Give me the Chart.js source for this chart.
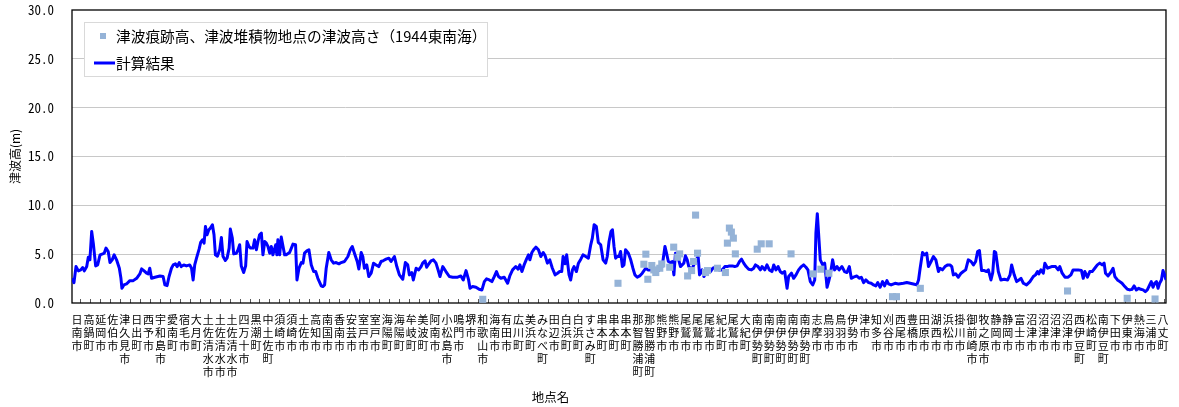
<!DOCTYPE html>
<html lang="ja">
<head>
<meta charset="utf-8">
<title>津波高 計算結果</title>
<script src="https://cdn.jsdelivr.net/npm/chart.js@4.4.1/dist/chart.umd.min.js"></script>
<style>
  html, body { margin: 0; padding: 0; background: #ffffff; }
  #wrap { width: 1179px; height: 407px; }
</style>
</head>
<body>
<div id="wrap"><canvas id="chart" width="1179" height="407"></canvas></div>
<script>
// Place names shown along the coast (one every LABEL_STEP points)
const placeNames = ['日南市','高鍋町','延岡市','佐伯市','津久見市','日出町','西予市','宇和島市','愛南町','宿毛市','大月町','土佐清水市','土佐清水市','土佐清水市','四万十市','黒潮町','中土佐町','須崎市','須崎市','土佐市','高知市','南国市','香南市','安芸市','室戸市','室戸市','海陽町','海陽町','牟岐町','美波町','阿南市','小松島市','鳴門市','堺市','和歌山市','海南市','有田市','広川町','美浜町','みなべ町','田辺市','白浜町','白浜町','すさみ町','串本町','串本町','串本町','那智勝浦町','那智勝浦町','熊野市','熊野市','尾鷲市','尾鷲市','尾鷲市','紀北町','尾鷲市','大紀町','南伊勢町','南伊勢町','南伊勢町','南伊勢町','南伊勢町','志摩市','鳥羽市','鳥羽市','伊勢市','津市','知多市','刈谷市','西尾市','豊橋市','田原市','湖西市','浜松市','掛川市','御前崎市','牧之原市','静岡市','静岡市','富士市','沼津市','沼津市','沼津市','沼津市','西伊豆町','松崎町','南伊豆町','下田市','伊東市','熱海市','三浦市','八丈町'];

// Computed tsunami height: position along the coast (point index) and height (m)
const calcPos = [
  -0.5,0.5,1.5,2.7,3.9,4.9,5.7,6.9,7.7,8.5, 9.4,10.2,11.4,12.4,13.6,14.9,15.7,16.6,17.7,18.6,
  19.7,20.7,21.9,23.3,24.1,24.6,25.6,26.9,28.6,30.3, 32.0,33.6,34.5,35.6,37.0,37.8,38.6,39.5,41.2,43.7,
  45.3,46.2,47.3,48.3,49.5,50.4,51.5,52.4,53.4,54.4, 55.7,57.0,58.7,59.6,60.4,61.2,62.1,63.4,64.2,65.1,
  65.9,66.6,67.4,68.3,69.1,70.1,70.9,71.6,72.6,73.8, 74.6,75.4,76.6,77.5,78.5,79.1,80.1,80.8,82.1,83.0,
  83.8,84.6,85.8,86.8,87.5,88.5,89.3,90.5,91.3,92.2, 93.0,93.8,94.7,95.5,96.4,97.2,98.0,98.9,99.7,100.5,
  101.9,102.5,103.0,103.9,104.7,105.6,106.4,107.2,108.9,110.6, 111.9,112.6,113.6,114.8,115.6,116.4,117.6,118.6,119.8,121.0,
  122.0,123.1,124.8,125.6,126.5,127.3,128.6,129.8,131.0,132.3, 133.7,134.8,136.5,138.2,139.4,140.4,141.5,142.9,143.7,144.9,
  145.7,146.5,147.7,148.7,149.9,151.1,152.4,153.7,154.9,156.1, 157.4,158.8,159.9,161.6,162.8,164.1,165.8,167.1,168.3,169.1,
  170.3,171.1,172.5,173.8,175.0,175.8,177.0,177.8,178.8,180.0, 181.2,182.5,183.8,184.5,185.9,187.5,189.2,190.9,
  193.4,195.0,196.2,197.6,198.9,199.6,200.9,202.6,204.2,205.6, 206.8,207.9,209.3,210.6,211.8,212.9,213.9,215.1,216.8,218.5,
  219.6,221.0,222.6,223.8,224.7,225.7,226.8,228.0,229.0,229.7, 230.7,231.8,232.7,234.0,235.2,236.4,237.4,238.5,239.7,241.0,
  242.4,243.6,244.7,245.7,246.4,247.4,248.2,249.4,250.2,251.1, 251.9,253.1,254.1,255.3,256.4,257.8,259.1,260.3,261.1,262.0,
  263.1,264.1,265.3,266.5,267.8,268.6,269.5,270.5,271.2,272.0, 272.8,273.7,274.5,275.3,276.2,277.0,277.8,279.2,280.4,281.5,
  282.5,283.7,284.9,286.2,287.9,289.2,290.4,291.6,292.6,293.7, 294.9,296.2,297.6,298.4,299.3,300.4,301.3,302.1,302.9,304.3,
  305.4,307.1,307.9,308.8,309.6,311.0,312.1,313.3,314.3,315.0, 316.3,317.2,318.0,319.3,320.5,321.7,323.0,324.7,326.4,327.7,
  328.9,330.0,331.4,332.7,333.9,335.1,336.1,337.2,338.4,339.7, 341.1,342.2,343.1,344.4,345.6,346.4,347.8,348.9,350.1,351.4,
  352.3,353.4,354.5,355.6,356.5,357.8,359.0,359.8,361.2,362.3, 363.5,364.8,366.2,367.3,368.5,369.5,370.7,371.9,372.9,373.5,
  374.2,
  375.7,376.9,377.9,378.5,379.1,379.9,380.7,381.9,382.9,384.1, 385.2,386.6,387.9,389.1,390.3,391.3,392.4,394.1,395.3,396.3,
  397.5,398.6,400.0,401.3,402.5,403.6,404.6,405.8,407.0,408.0, 409.2,410.0,411.3,413.3,415.0,417.5,419.2,420.9,422.5,424.2,
  425.1,425.9,427.1,428.1,429.2,430.1,431.4,432.6,433.8,435.1, 435.9,437.1,438.4,439.8,440.9,441.8,442.6,443.8,445.1,446.5,
  447.6,448.8,450.1,451.5,452.7,453.8,454.8,455.7,456.8,458.2, 459.3,460.2,461.5,462.4,463.2,463.9,465.2,466.5,468.2,469.9,
  471.1,471.9,473.2,474.4,475.6,476.6,477.8,479.4,481.1,482.8, 483.9,484.9,485.6,486.6,487.8,488.6,490.0,492.0,494.0,495.3,
  496.1,497.3,498.7,500.3,501.7,502.8,504.0,505.3,507.0,507.9, 508.7,510.0,511.2,512.4,513.7,515.0,516.2,517.4,518.4,519.1,
  520.4,521.7,522.9,523.8,525.1,526.3,527.4,528.8,530.1,531.3, 532.4,533.5,534.6,535.8,536.8,538.0,539.1,540.1,541.3,542.1,
  543.0,543.8,544.7,545.5,546.3,547.2,548.0,548.8,549.5
];
const calcHeight = [
  2.53,2.09,3.73,3.29,3.39,3.63,3.29,3.73,4.69,4.42, 7.33,6.13,3.80,3.90,4.93,5.03,5.10,5.62,5.27,4.14,
  4.42,4.93,4.42,3.56,2.53,1.51,1.85,1.95,2.29,2.29, 2.53,2.98,3.49,3.32,3.05,2.98,3.56,2.53,2.64,2.77,
  2.71,1.85,1.78,2.71,3.56,3.90,4.01,3.73,4.14,3.73, 3.90,3.80,3.90,3.56,2.36,3.90,4.59,5.51,6.20,6.47,
  6.13,7.84,6.99,7.50,7.67,8.01,6.99,4.93,4.79,5.48, 6.71,4.79,4.35,4.62,5.62,7.57,6.64,5.03,5.10,5.45,
  5.96,3.80,3.12,3.80,6.30,5.79,5.62,5.62,6.47,5.45, 6.30,6.99,7.16,4.93,6.30,6.13,5.79,5.10,5.79,4.93,
  5.96,4.93,6.47,4.93,6.75,5.79,4.93,4.93,5.17,6.03, 5.96,2.36,3.56,4.14,4.08,5.10,5.34,5.45,3.90,3.22,
  3.22,2.53,1.75,1.68,1.85,3.56,5.17,4.42,4.08,4.14, 4.01,4.14,4.25,4.76,5.45,5.79,5.10,4.25,3.49,5.17,
  4.76,3.56,3.90,2.71,3.05,4.08,3.90,3.73,4.25,4.35, 4.49,4.59,4.25,4.76,3.73,2.88,2.43,4.14,3.90,2.88,
  3.12,2.36,3.56,3.39,3.73,4.08,4.32,3.66,3.97,4.32, 4.42,4.08,3.22,2.71,3.73,3.22,2.71,2.64,
  2.64,2.77,2.36,3.32,2.36,1.51,1.68,1.61,1.40,1.34, 2.19,2.47,2.36,2.19,2.71,3.22,2.71,2.53,2.64,2.02,
  2.77,3.39,3.73,3.46,3.90,3.22,3.90,4.49,4.93,4.42, 5.17,5.51,5.72,5.45,4.76,5.17,4.83,4.08,4.42,3.56,
  2.88,3.05,3.22,3.22,4.76,4.01,4.93,2.88,2.36,3.39, 3.73,3.22,4.08,4.49,4.93,4.76,4.59,5.96,6.64,8.01,
  7.84,6.20,5.96,4.42,4.08,4.76,6.30,7.33,7.50,5.79, 4.59,4.76,4.76,5.27,3.73,3.90,5.45,5.10,4.42,3.56,
  2.88,2.64,2.77,3.05,3.56,3.39,3.39,3.73,3.39,3.22, 3.39,3.73,5.79,5.10,4.25,4.14,4.25,2.88,5.10,4.59,
  3.73,4.08,4.83,4.42,3.73,3.39,3.90,4.42,4.76,2.88, 3.39,2.71,3.05,3.32,3.22,3.56,3.66,3.39,3.39,3.73,
  3.73,3.80,3.80,3.73,3.80,4.25,4.49,4.08,3.73,3.46, 3.39,3.56,3.90,3.73,3.39,3.73,3.39,3.90,3.39,3.22,
  3.90,3.39,3.73,3.22,3.05,3.22,1.51,2.71,3.05,2.53, 2.88,3.39,3.73,3.90,3.66,3.39,2.19,1.85,2.36,7.16,
  9.15,
  4.42,3.90,4.08,2.88,1.61,2.19,2.88,4.42,3.39,3.73, 3.39,3.73,3.22,3.12,3.73,2.53,2.64,2.77,2.53,2.64,
  2.09,2.36,2.09,2.02,1.85,1.75,2.09,1.61,2.19,1.75, 2.29,1.95,1.85,2.02,1.95,2.02,2.09,2.02,1.95,1.85,
  2.36,3.56,5.17,4.93,5.10,3.73,4.25,4.76,4.42,3.22, 3.56,3.39,3.73,3.90,3.90,3.73,2.88,2.98,2.64,3.05,
  3.22,3.39,4.42,4.25,3.90,4.25,5.27,5.38,3.32,3.32, 3.22,3.39,2.36,3.12,5.27,5.17,3.22,2.36,2.43,2.36,
  2.88,3.90,2.88,2.19,2.36,2.53,2.02,1.85,2.19,2.71, 2.88,3.22,2.98,3.39,3.05,4.08,3.56,3.73,3.73,3.39,
  3.73,3.05,2.64,2.64,2.88,3.39,3.39,3.39,3.32,2.53, 3.22,2.64,3.22,3.22,3.56,3.90,4.08,3.90,4.08,3.05,
  2.77,3.12,3.56,2.71,2.36,2.19,2.02,1.68,1.40,1.34, 1.40,1.75,1.34,1.51,1.40,1.34,1.16,1.34,1.85,2.19,
  1.61,2.02,2.19,1.51,2.02,2.36,3.32,2.88,2.36
];

// Observed trace heights / tsunami deposit sites (1944 Tonankai)
const obsPos = [206,274,287,288,289,291,292,293,295,296,300,302,304,305,309,311,312,313,314,318,319,324,328,329,330,331,332,333,344,346,350,361,372,376,380,412,414,426,500,530,544];
const obsHeight = [0.38,2.02,3.97,5.00,2.43,3.84,3.39,3.12,3.56,4.00,3.66,5.72,4.69,5.03,2.77,3.32,4.25,9.00,5.10,3.12,3.32,3.56,3.12,6.13,7.67,7.26,6.64,5.03,5.51,6.06,6.06,5.03,2.98,3.46,3.05,0.65,0.65,1.50,1.23,0.48,0.41];

// Axis settings
const POINT_COUNT = 550;
const LABEL_START = 2, LABEL_STEP = 6;   // a place name every 6 points
const TICK_START = 4, TICK_STEP = 5;     // a tick mark every 5 points
const yTickValues = [0, 5, 10, 15, 20, 25, 30];

const JP = '"Noto Sans CJK JP", "Noto Sans CJK SC", sans-serif';

// Thin black frame round the plot area
const plotFrame = {
  id: 'plotFrame',
  beforeDatasetsDraw(chart) {
    const { ctx, chartArea: a } = chart;
    ctx.save();
    ctx.strokeStyle = '#000000';
    ctx.lineWidth = 1.3;
    ctx.strokeRect(a.left, a.top, a.right - a.left, a.bottom - a.top);
    ctx.restore();
  }
};

// Boxed legend in the upper-left corner of the plot
const boxLegend = {
  id: 'boxLegend',
  afterDatasetsDraw(chart) {
    const { ctx, chartArea: a } = chart;
    const x0 = a.left + 12, y0 = a.top + 12, w = 403, h = 54;
    ctx.save();
    ctx.fillStyle = '#ffffff';
    ctx.fillRect(x0, y0, w, h);
    ctx.strokeStyle = '#d9d9d9';
    ctx.lineWidth = 1;
    ctx.strokeRect(x0 + 0.5, y0 + 0.5, w, h);
    ctx.font = '14.7px ' + JP;
    ctx.textBaseline = 'middle';
    ctx.textAlign = 'left';
    chart.data.datasets.forEach((ds, i) => {
      const cy = y0 + 14 + i * 27;
      if (ds.showLine === false) {
        ctx.fillStyle = ds.backgroundColor;
        ctx.fillRect(x0 + 16, cy - 3, 6, 6);
      } else {
        ctx.strokeStyle = ds.borderColor;
        ctx.lineWidth = ds.borderWidth;
        ctx.beginPath();
        ctx.moveTo(x0 + 10, cy);
        ctx.lineTo(x0 + 31, cy);
        ctx.stroke();
      }
      ctx.fillStyle = '#000000';
      ctx.fillText(ds.label, x0 + 32, cy);
    });
    ctx.restore();
  }
};

// Horizontal axis title
const xAxisTitle = {
  id: 'xAxisTitle',
  afterDraw(chart) {
    const { ctx, chartArea: a } = chart;
    ctx.save();
    ctx.font = '12.5px ' + JP;
    ctx.fillStyle = '#000000';
    ctx.textAlign = 'center';
    ctx.textBaseline = 'middle';
    ctx.fillText('地点名', a.left + (a.right - a.left) * 0.4375, chart.height - 10);
    ctx.restore();
  }
};

new Chart(document.getElementById('chart'), {
  type: 'scatter',
  data: {
    datasets: [
      {
        label: '津波痕跡高、津波堆積物地点の津波高さ（1944東南海）',
        data: obsPos.map((p, i) => ({ x: p, y: obsHeight[i] })),
        showLine: false,
        pointStyle: 'rect',
        pointRadius: 5,
        pointHoverRadius: 5,
        backgroundColor: '#95b3d7',
        borderWidth: 0
      },
      {
        label: '計算結果',
        data: calcPos.map((p, i) => ({ x: p, y: calcHeight[i] })),
        showLine: true,
        borderColor: '#0000ff',
        backgroundColor: '#0000ff',
        borderWidth: 3,
        borderJoinStyle: 'round',
        pointRadius: 0,
        pointHoverRadius: 0,
        tension: 0,
        fill: false
      }
    ]
  },
  options: {
    responsive: false,
    animation: false,
    devicePixelRatio: 1,
    layout: { padding: { top: 10, right: 11, bottom: 0, left: 0 } },
    plugins: {
      legend: { display: false },
      tooltip: { enabled: false }
    },
    scales: {
      x: {
        type: 'linear',
        min: -0.5,
        max: POINT_COUNT - 0.5,
        afterBuildTicks(scale) {
          const vals = new Set();
          placeNames.forEach((_, j) => vals.add(LABEL_START + j * LABEL_STEP));
          for (let v = TICK_START; v < POINT_COUNT; v += TICK_STEP) vals.add(v);
          scale.ticks = [...vals].sort((a, b) => a - b).map(v => ({ value: v }));
        },
        afterFit(scale) { scale.height = 104; },
        border: { display: false },
        grid: {
          drawOnChartArea: false,
          drawTicks: true,
          tickLength: -4,
          tickWidth: 1,
          tickColor: ctx => (ctx.tick && (ctx.tick.value - TICK_START) % TICK_STEP === 0) ? '#595959' : 'rgba(0,0,0,0)'
        },
        ticks: {
          autoSkip: false,
          maxRotation: 0,
          minRotation: 0,
          padding: 14,
          color: '#000000',
          font: { family: JP, size: 11, lineHeight: '13px' },
          callback(value) {
            const j = (value - LABEL_START) / LABEL_STEP;
            return (Number.isInteger(j) && placeNames[j]) ? Array.from(placeNames[j]) : '';
          }
        }
      },
      y: {
        min: 0,
        max: 30,
        afterBuildTicks(scale) {
          scale.ticks = yTickValues.map(v => ({ value: v }));
        },
        afterFit(scale) {
          scale.width = 72;
          scale.paddingTop = 0;
          scale.paddingBottom = 0;
        },
        border: { display: false },
        grid: {
          drawTicks: false,
          lineWidth: 1,
          color: ctx => (ctx.tick && ctx.tick.value > 0 && ctx.tick.value < 30) ? '#c8c8c8' : 'rgba(0,0,0,0)'
        },
        ticks: {
          padding: 18,
          color: '#000000',
          font: { family: '"Noto Sans Mono CJK JP", "Liberation Mono", monospace', size: 13 },
          callback: v => v.toFixed(1)
        },
        title: {
          display: true,
          text: '津波高(m)',
          color: '#000000',
          font: { family: JP, size: 12 },
          padding: { top: 8, bottom: 0 }
        }
      }
    }
  },
  plugins: [plotFrame, boxLegend, xAxisTitle]
});
</script>
</body>
</html>
